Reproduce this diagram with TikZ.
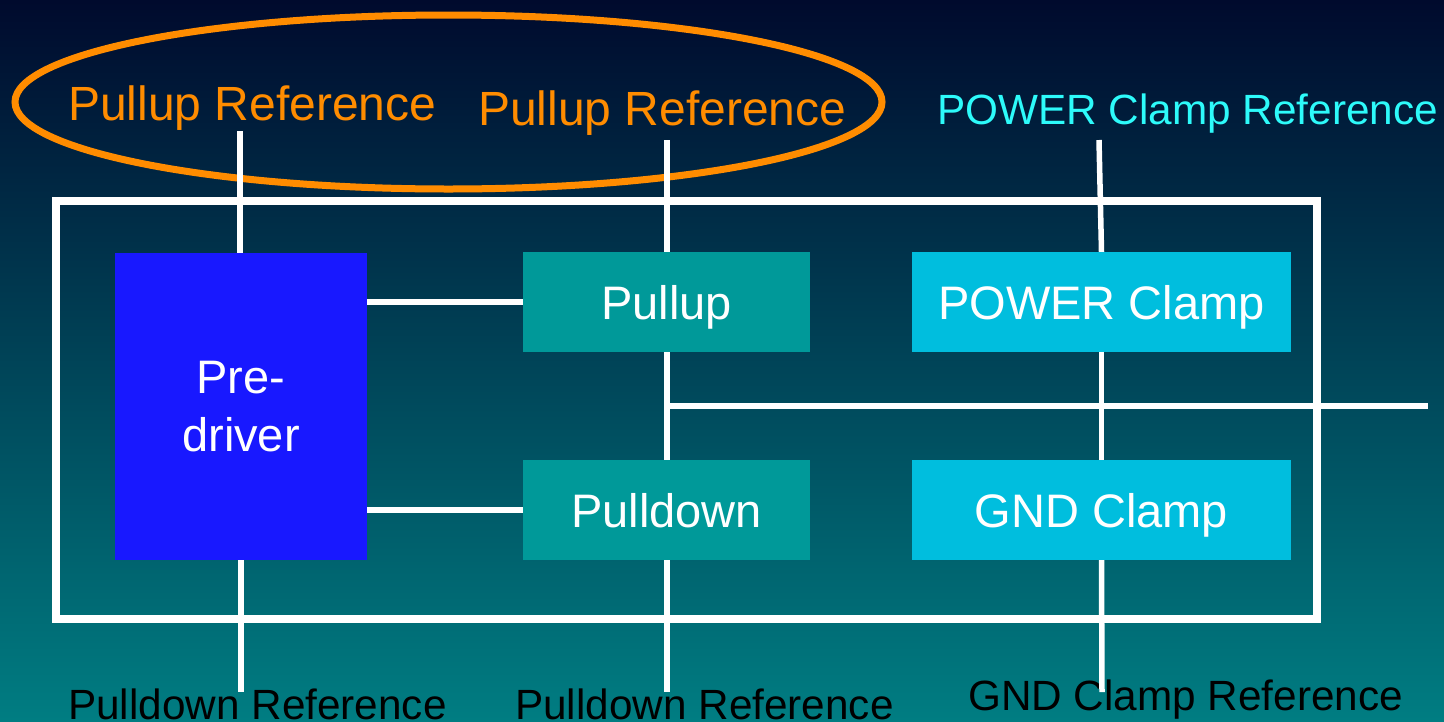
\documentclass[tikz,border=0pt]{standalone}
\usepackage{fontspec}
\setmainfont{Liberation Sans}
\definecolor{bgtop}{RGB}{0,10,45}
\definecolor{bgbot}{RGB}{0,125,130}
\definecolor{refor}{RGB}{255,140,0}
\definecolor{refcy}{RGB}{45,250,250}
\definecolor{predrv}{RGB}{24,24,255}
\definecolor{tealbox}{RGB}{0,153,153}
\definecolor{clampbox}{RGB}{0,190,222}
\tikzset{
  blk/.style={rectangle, inner sep=0pt, text=white, align=center,
    font=\fontsize{47}{58}\selectfont},
  oneline/.style={blk, text depth=0pt},
  wire/.style={draw=white, line width=5.5pt},
  reflabel/.style={anchor=base west, inner sep=0pt},
  bigref/.style={reflabel, font=\fontsize{48}{58}\selectfont},
  smallref/.style={reflabel, font=\fontsize{42.3}{50}\selectfont}
}
\begin{document}
\begin{tikzpicture}[x=1pt,y=-1pt]
\shade[top color=bgtop, bottom color=bgbot] (0,0) rectangle (1444,721);
\useasboundingbox (0,0) rectangle (1444,721);
% highlight ellipse
\draw[refor, line width=7pt] (448.5,102) ellipse [x radius=433.5pt, y radius=87pt];
% frame
\draw[white, line width=8pt] (56,201) rectangle (1317,619);
% blocks
\node[blk, fill=predrv, minimum width=252pt, minimum height=307pt] (pre) at (241,406.5) {Pre-\\driver};
\node[oneline, fill=tealbox, minimum width=287pt, minimum height=100pt] (pu) at (666.5,302) {Pullup};
\node[oneline, fill=tealbox, minimum width=287pt, minimum height=100pt] (pd) at (666.5,510) {Pulldown};
\node[oneline, fill=clampbox, minimum width=379pt, minimum height=100pt] (pc) at (1101.5,302) {POWER Clamp};
\node[oneline, fill=clampbox, minimum width=379pt, minimum height=100pt] (gc) at (1101.5,510) {GND Clamp};
% labels
\node[bigref, text=refor] (ref1) at (68,120) {Pullup Reference};
\node[bigref, text=refor] (ref2) at (478,125) {Pullup Reference};
\node[smallref, text=refcy] (ref3) at (937,124) {POWER Clamp Reference};
\node[smallref, text=black] (ref4) at (68,719) {Pulldown Reference};
\node[smallref, text=black] (ref5) at (515,719) {Pulldown Reference};
\node[smallref, text=black] (ref6) at (968,710) {GND Clamp Reference};
% wire end points
\coordinate (t1) at (240,131);
\coordinate (t2) at (667,140);
\coordinate (t3) at (1099,140);
\coordinate (b1) at (241,692);
\coordinate (b2) at (667,692);
\coordinate (b3) at (1102,692);
\coordinate (junc) at (667,406);
\coordinate (out) at (1428,406);
% wires
\draw[wire] (t1) -- (pre.north -| t1);
\draw[wire] (t2) -- (pu.north -| t2);
\draw[wire] (t3) -- (pc.north);
\draw[wire] (pre.east |- pu.west) -- (pu.west);
\draw[wire] (pre.east |- pd.west) -- (pd.west);
\draw[wire] (pu.south -| junc) -- (pd.north -| junc);
\draw[wire] (junc) -- (out);
\draw[wire] (pc.south) -- (gc.north);
\draw[wire] (pre.south -| b1) -- (b1);
\draw[wire] (pd.south -| b2) -- (b2);
\draw[wire] (gc.south) -- (b3);
\end{tikzpicture}
\end{document}
